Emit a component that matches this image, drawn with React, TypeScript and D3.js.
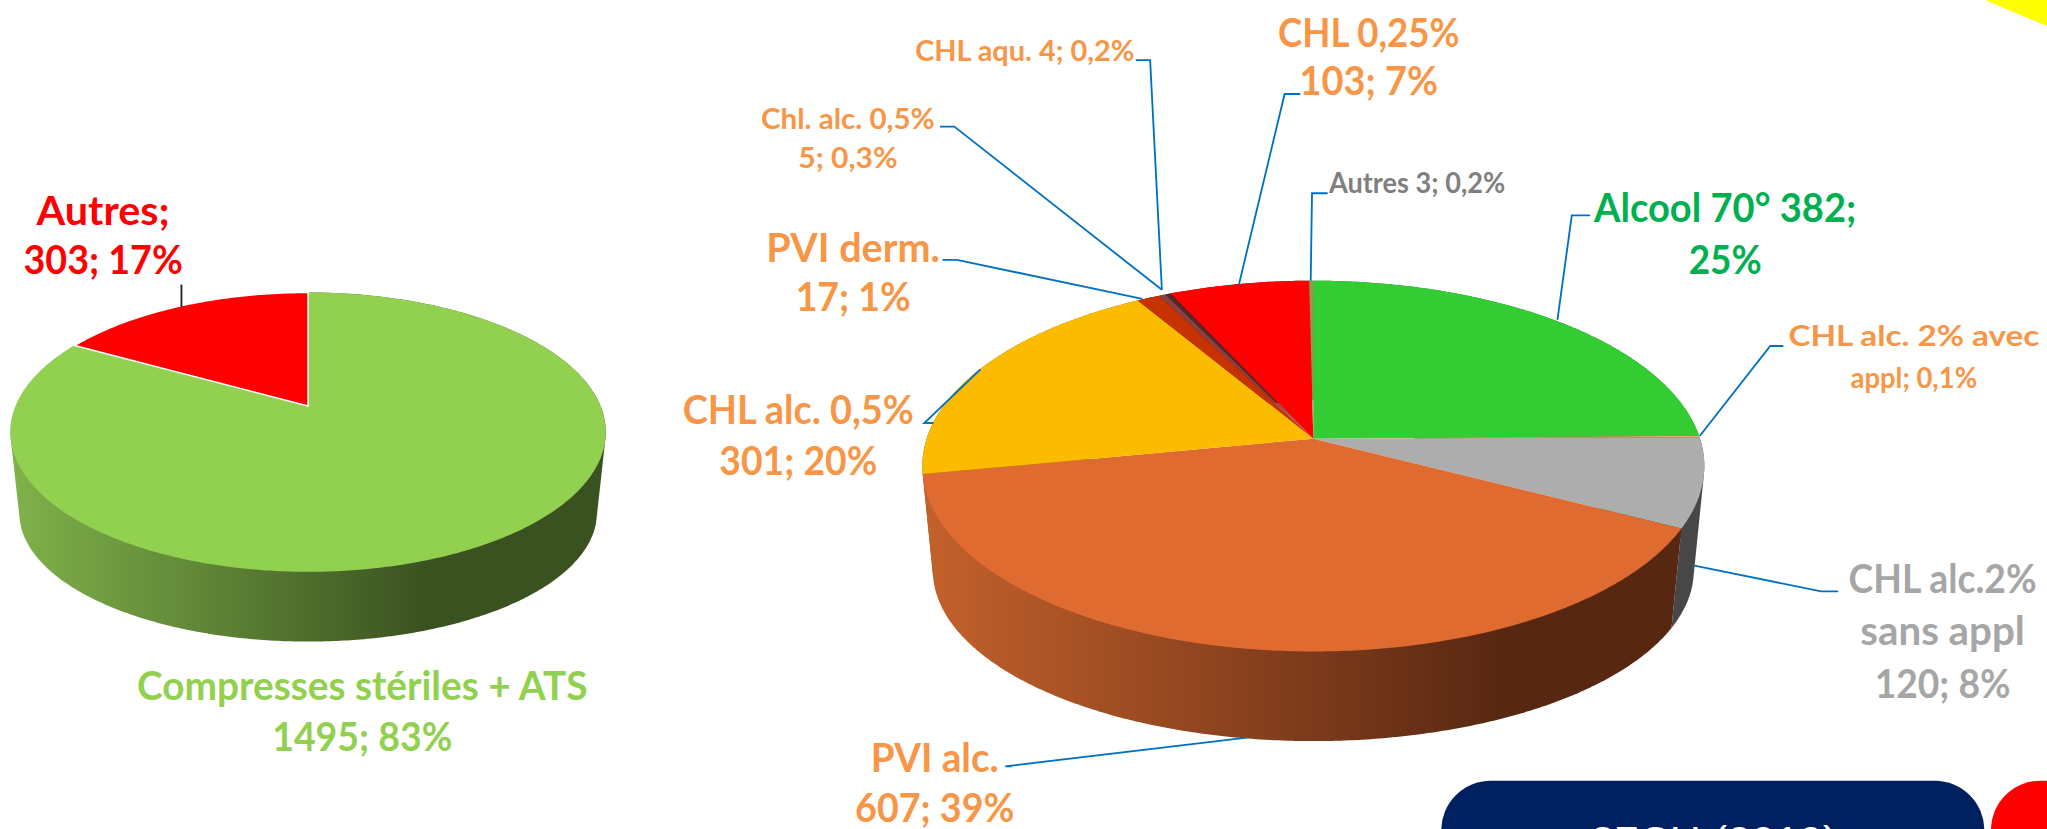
import * as d3 from "d3";

// values
const leftCategories = ["Compresses stériles + ATS", "Autres"];
const leftValues = [1495, 303];
const leftColors = ["#92d050", "#ff0000"];

const rightCategories = [
  "Alcool 70°", "CHL alc. 2% avec appl", "CHL alc.2% sans appl", "PVI alc.", "CHL alc. 0,5%",
  "PVI derm.", "Chl. alc. 0,5%", "CHL aqu.", "CHL 0,25%", "Autres",
];
const rightValues = [382, 2, 120, 607, 301, 17, 5, 4, 103, 3];
const rightColors = [
  "#33cc33", "#e3b06a", "#adadad", "#e06b30", "#fbbc00",
  "#c63300", "#8a4044", "#4f2a26", "#ff0000", "#8d9a50",
];

const leftShape = { cx: 236, cy: 311, up: 87, down: 127, halfWidth: 228, depth: 63.6, taperX: 0.97, taperY: 0.92 };
const rightShape = { cx: 1006, cy: 336, up: 121, down: 163, halfWidth: 299.5, depth: 81.7, taperX: 0.973, taperY: 0.92 };

const ORANGE = "#f79646";
const labels = [
  { lines: ["Autres;", "303; 17%"], x: 79, y: [172, 210], w: [102, 122], size: 30, fill: "#ff0000" },
  { lines: ["Compresses stériles + ATS", "1495; 83%"], x: 277.5, y: [536, 575], w: [345, 138], size: 30, fill: "#92d050" },
  { lines: ["PVI alc.", "607; 39%"], x: 716, y: [591, 630], w: [98, 122], size: 30, fill: ORANGE },
  { lines: ["CHL alc. 0,5%", "301; 20%"], x: 611.5, y: [325, 364], w: [177, 121], size: 30, fill: ORANGE },
  { lines: ["PVI derm.", "17; 1%"], x: 653.5, y: [201, 238], w: [133, 88], size: 30, fill: ORANGE },
  { lines: ["Chl. alc. 0,5%", "5; 0,3%"], x: 649.5, y: [99, 129], w: [133, 76], size: 21.5, fill: ORANGE },
  { lines: ["CHL aqu. 4; 0,2%"], x: 785, y: [47], w: [168], size: 21.5, fill: ORANGE },
  { lines: ["CHL 0,25%", "103; 7%"], x: 1048.5, y: [36, 73], w: [139, 106], size: 30, fill: ORANGE },
  { lines: ["Autres 3; 0,2%"], x: 1085.5, y: [148], w: [135], size: 21.5, fill: "#7f7f7f" },
  { lines: ["Alcool 70° 382;", "25%"], x: 1321.5, y: [170, 210], w: [201, 56], size: 30, fill: "#00b050" },
  { lines: ["CHL alc. 2% avec", "appl; 0,1%"], x: 1466, y: [265, 297], w: [192, 97], size: 21.5, fill: ORANGE },
  { lines: ["CHL alc.2%", "sans appl", "120; 8%"], x: 1488, y: [454, 494, 535], w: [144, 126, 104], size: 30, fill: "#a6a6a6" },
];

const leaders: { pts: [number, number][]; color: string }[] = [
  { pts: [[139, 218], [139, 235]], color: "#222222" },
  { pts: [[870, 46], [881, 46], [890, 222]], color: "#0070c0" },
  { pts: [[720, 97], [731, 97], [890, 222]], color: "#0070c0" },
  { pts: [[722, 199], [733, 199], [875, 229]], color: "#0070c0" },
  { pts: [[996, 72], [984, 72], [949, 218]], color: "#0070c0" },
  { pts: [[1017, 148], [1005, 148], [1004, 215]], color: "#0070c0" },
  { pts: [[1218, 165], [1204, 165], [1193, 245]], color: "#0070c0" },
  { pts: [[1366, 265], [1356, 265], [1302, 334]], color: "#0070c0" },
  { pts: [[1408, 453], [1395, 453], [1297, 433]], color: "#0070c0" },
  { pts: [[775, 587], [770, 587], [955, 565]], color: "#0070c0" },
  { pts: [[715, 324], [708, 324], [751, 283]], color: "#0070c0" },
];

const lineGen = d3.line();

// circle seen in perspective: far side squeezed, near side stretched
const projector = (s: any) => {
  const k = (s.down - s.up) / (s.down + s.up);
  const A = s.down * (1 - k);
  const B = s.halfWidth * Math.sqrt(1 - k * k);
  return (theta: number, r: number, sx: number, sy: number, dy: number): [number, number] => {
    const u = Math.sin(theta) * r;
    const v = -Math.cos(theta) * r;
    const w = 1 - k * v;
    return [s.cx + (B * sx * u) / w, s.cy + (A * sy * v) / w + dy];
  };
};

const arcThetas = (a0: number, a1: number) => [...d3.range(a0, a1, 0.01), a1];

const Pie = ({ id, shape, values, colors, sideColors, sideStops, stroke }: any) => {
  const project = projector(shape);
  const slices = d3.pie<number>().sort(null)(values);
  const walls = slices
    .map((d, i) => {
      const th = arcThetas(d.startAngle, d.endAngle);
      const top = th.map((t) => project(t, 1, 1, 1, 0));
      const base = th.map((t) => project(t, 1, shape.taperX, shape.taperY, shape.depth));
      // hull keeps the straight tangent between the two rims at the sides
      const hull = d3.polygonHull([...top, ...base]) as [number, number][];
      return { i, path: lineGen(hull) + "Z", order: d3.mean(top, (p) => p[1]) as number };
    })
    .sort((a, b) => a.order - b.order);

  return (
    <g>
      <defs>
        {sideColors.map((c: any, i: number) =>
          c ? (
            <linearGradient
              key={i}
              id={`${id}-side-${i}`}
              gradientUnits="userSpaceOnUse"
              x1={shape.cx - shape.halfWidth}
              x2={shape.cx + shape.halfWidth}
              y1={0}
              y2={0}
            >
              <stop offset="0" stopColor={c[0]} />
              <stop offset={sideStops} stopColor={c[1]} />
            </linearGradient>
          ) : null,
        )}
      </defs>
      {walls.map((w) => (
        <path
          key={w.i}
          d={w.path}
          fill={sideColors[w.i] ? `url(#${id}-side-${w.i})` : d3.color(colors[w.i])!.darker(1.6).formatHex()}
        />
      ))}
      {slices.map((d, i) => {
        const rim = arcThetas(d.startAngle, d.endAngle).map((t) => project(t, 1, 1, 1, 0));
        return (
          <path
            key={i}
            d={lineGen([project(0, 0, 1, 1, 0), ...rim]) + "Z"}
            fill={colors[i]}
            stroke={stroke && stroke[i] ? stroke[i] : "none"}
            strokeWidth={1.2}
          />
        );
      })}
    </g>
  );
};

export default function App() {
  return (
    <svg
      width={2047}
      height={829}
      viewBox="0 0 1568 635"
      style={{ position: "absolute", left: 0, top: 0, background: "#fff" }}
      fontFamily="Lato, 'Open Sans', sans-serif"
      fontWeight={700}
    >
      <path d="M1520.5 0 L1568 20 L1568 0 Z" fill="#ffff00" />

      <Pie
        id="left"
        shape={leftShape}
        values={leftValues}
        colors={leftColors}
        sideColors={[["#80b24a", "#3a5220"], null]}
        sideStops={0.7}
        stroke={[null, "#ffffff"]}
      />
      <Pie
        id="right"
        shape={rightShape}
        values={rightValues}
        colors={rightColors}
        sideColors={[null, null, ["#474747", "#474747"], ["#c4612c", "#572712"], null, null, null, null, null, null]}
        sideStops={0.75}
      />

      {leaders.map((l, i) => (
        <path key={i} d={lineGen(l.pts) as string} fill="none" stroke={l.color} strokeWidth={1.4} />
      ))}

      {labels.map((l, i) =>
        l.lines.map((t, j) => (
          <text
            key={`${i}-${j}`}
            x={l.x}
            y={l.y[j]}
            fontSize={l.size}
            fill={l.fill}
            textAnchor="middle"
            textLength={l.w[j]}
            lengthAdjust="spacingAndGlyphs"
          >
            {t}
          </text>
        )),
      )}

      <rect x={1104} y={598} width={416} height={90} rx={38} fill="#00205f" />
      <rect x={1525} y={598} width={90} height={90} rx={38} fill="#ff0000" />
      <text x={1313} y={656} fontSize={33} fill="#ffffff" textAnchor="middle" fontFamily="Liberation Sans, Arial, sans-serif" fontWeight={400}>
        87CH (2019)
      </text>
    </svg>
  );
}
